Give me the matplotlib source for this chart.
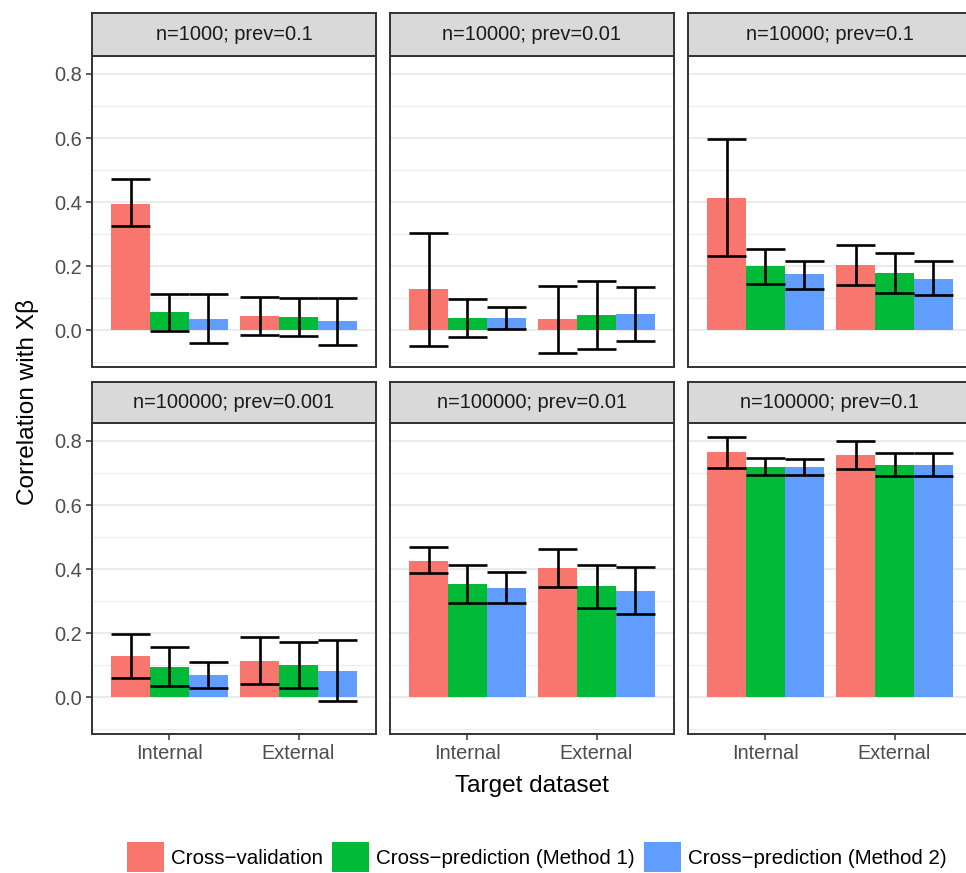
import matplotlib
matplotlib.use("Agg")
import matplotlib.pyplot as plt
from matplotlib.patches import Patch
import numpy as np

plt.rcParams["font.family"] = ["Liberation Sans", "DejaVu Sans"]

# Facets (row-major, 2 x 3) and x categories
panels = ["n=1000; prev=0.1", "n=10000; prev=0.01", "n=10000; prev=0.1",
          "n=100000; prev=0.001", "n=100000; prev=0.01", "n=100000; prev=0.1"]
targets = ["Internal", "External"]
methods = ["Cross\u2212validation", "Cross\u2212prediction (Method 1)",
           "Cross\u2212prediction (Method 2)"]
colors = ["#F8766D", "#00BA38", "#619CFF"]

# Mean correlation per panel: [Internal, External]
cv_mean = [[0.394, 0.043], [0.127, 0.034], [0.413, 0.202],
           [0.128, 0.113], [0.426, 0.402], [0.765, 0.756]]
cv_lo = [[0.324, -0.014], [-0.051, -0.071], [0.231, 0.141],
         [0.060, 0.040], [0.387, 0.343], [0.717, 0.712]]
cv_hi = [[0.471, 0.104], [0.304, 0.138], [0.597, 0.266],
         [0.197, 0.188], [0.469, 0.463], [0.812, 0.799]]

m1_mean = [[0.056, 0.040], [0.037, 0.047], [0.199, 0.177],
           [0.094, 0.100], [0.352, 0.346], [0.718, 0.725]]
m1_lo = [[-0.002, -0.019], [-0.022, -0.059], [0.143, 0.117],
         [0.036, 0.028], [0.293, 0.278], [0.694, 0.690]]
m1_hi = [[0.112, 0.100], [0.098, 0.152], [0.254, 0.241],
         [0.157, 0.172], [0.413, 0.413], [0.746, 0.761]]

m2_mean = [[0.034, 0.028], [0.037, 0.050], [0.174, 0.161],
           [0.069, 0.082], [0.340, 0.333], [0.718, 0.725]]
m2_lo = [[-0.041, -0.045], [0.002, -0.035], [0.130, 0.110],
         [0.027, -0.012], [0.293, 0.259], [0.695, 0.690]]
m2_hi = [[0.112, 0.100], [0.072, 0.136], [0.217, 0.216],
         [0.111, 0.177], [0.390, 0.405], [0.743, 0.763]]

means = [cv_mean, m1_mean, m2_mean]
lows = [cv_lo, m1_lo, m2_lo]
highs = [cv_hi, m1_hi, m2_hi]

W, H = 966, 873
fig = plt.figure(figsize=(W / 100, H / 100), dpi=100)

def px_axes(x0, y0, x1, y1):
    return fig.add_axes([x0 / W, 1 - y1 / H, (x1 - x0) / W, (y1 - y0) / H])

col_x = [92, 390, 688]
panel_w = 284
rows = [(13, 56, 367), (382, 423, 734)]  # strip top, panel top, panel bottom

# shared y range with 5% expansion
all_vals = np.concatenate([np.ravel(a) for a in lows + highs + means] + [[0.0]])
lo, hi = all_vals.min(), all_vals.max()
pad = 0.05 * (hi - lo)
ylim = (lo - pad, hi + pad)

dark = "#333333"
grid = "#EBEBEB"
tick_fs = 14.4
bar_w = 0.3
xpos = np.arange(1, len(targets) + 1)

for i, title in enumerate(panels):
    r, c = divmod(i, 3)
    st, pt, pb = rows[r]
    x0 = col_x[c]
    ax = px_axes(x0, pt, x0 + panel_w, pb)
    sax = px_axes(x0, st, x0 + panel_w, pt)

    ax.set_xlim(0.4, len(targets) + 0.6)
    ax.set_ylim(*ylim)
    ax.set_yticks([0.0, 0.2, 0.4, 0.6, 0.8])
    ax.set_yticks([-0.1, 0.1, 0.3, 0.5, 0.7], minor=True)
    ax.yaxis.set_major_formatter(matplotlib.ticker.FormatStrFormatter("%.1f"))
    ax.set_xticks(xpos)
    ax.set_xticklabels(targets)
    ax.grid(axis="y", which="major", color=grid, linewidth=1.5)
    ax.grid(axis="y", which="minor", color=grid, linewidth=0.8)
    ax.set_axisbelow(True)
    ax.tick_params(axis="both", which="major", length=4.5, width=1.1, color=dark,
                   labelsize=tick_fs, labelcolor="#4D4D4D", pad=2.5)
    ax.tick_params(axis="y", which="minor", length=0)
    if c != 0:
        ax.tick_params(axis="y", which="major", length=0, labelleft=False)
    if r == 0:
        ax.tick_params(axis="x", which="major", length=0, labelbottom=False)
    for s in ax.spines.values():
        s.set_color(dark)
        s.set_linewidth(1.4)

    for k in range(3):
        off = (k - 1) * bar_w
        m = np.array(means[k][i])
        l = np.array(lows[k][i])
        h = np.array(highs[k][i])
        ax.bar(xpos + off, m, width=bar_w, color=colors[k], linewidth=0, zorder=2)
        for xx, a, b in zip(xpos + off, l, h):
            ax.vlines(xx, a, b, color="black", linewidth=1.9, zorder=3)
            ax.hlines([a, b], xx - bar_w / 2, xx + bar_w / 2, color="black",
                      linewidth=1.9, zorder=3)

    sax.set_facecolor("#D9D9D9")
    sax.set_xticks([])
    sax.set_yticks([])
    for s in sax.spines.values():
        s.set_color(dark)
        s.set_linewidth(1.4)
    sax.text(0.5, 0.5, title, ha="center", va="center", fontsize=tick_fs,
             color="#1A1A1A", transform=sax.transAxes)

fig.text(532 / W, 1 - 786 / H, "Target dataset", ha="center", va="center",
         fontsize=17.6, color="black")
fig.text(28 / W, 1 - 402 / H, "Correlation with X\u03b2", ha="center", va="center",
         rotation=90, fontsize=17.6, color="black")

handles = [Patch(facecolor=col, edgecolor="none") for col in colors]
fig.legend(handles, methods, loc="center", bbox_to_anchor=(537 / W, 1 - 857 / H),
           ncol=3, frameon=False, fontsize=14.8, handlelength=1.8,
           handleheight=1.8, handletextpad=0.33, columnspacing=0.45,
           borderaxespad=0, borderpad=0)

fig.savefig("out.png", dpi=100, facecolor="white")
